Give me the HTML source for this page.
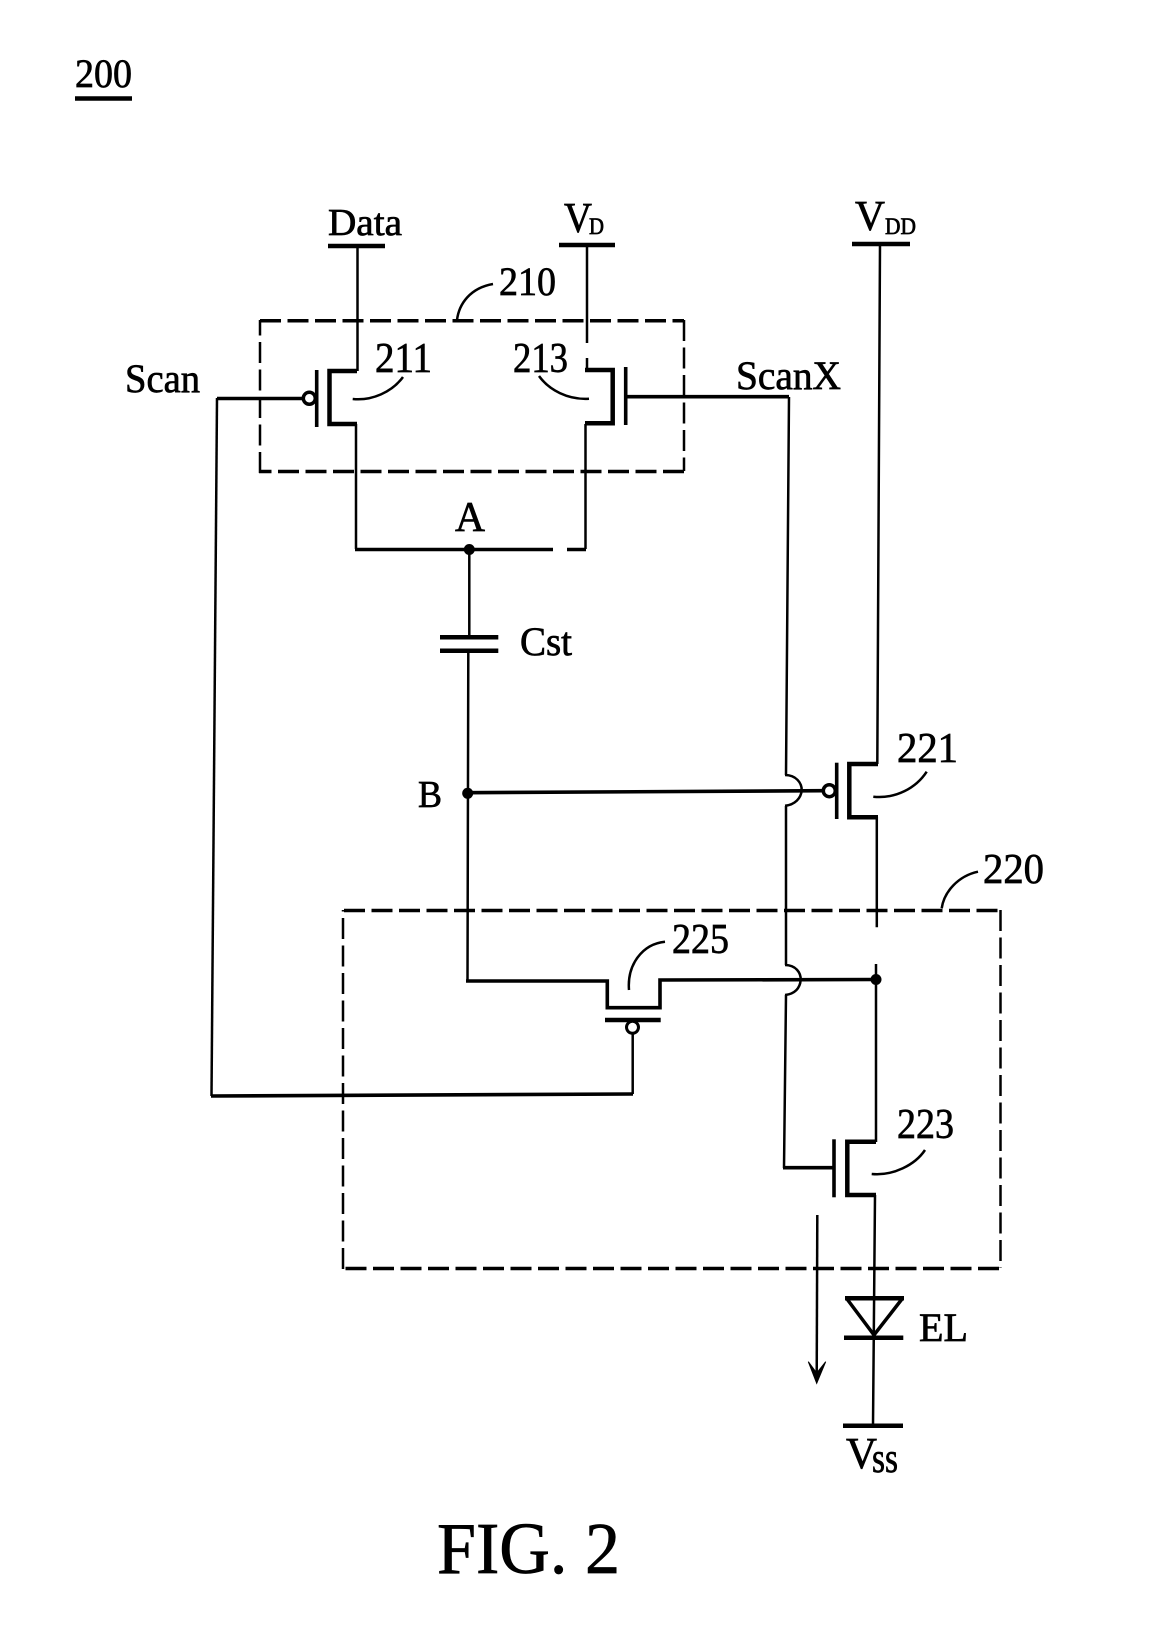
<!DOCTYPE html>
<html><head><meta charset="utf-8"><style>
html,body{margin:0;padding:0;background:#fff}
svg{display:block}
text{font-family:"Liberation Serif",serif;fill:#000;stroke:#000;stroke-width:.7}
.w{fill:none;stroke:#000;stroke-width:2.500}
.t{fill:none;stroke:#000;stroke-width:3.600}
.b{fill:none;stroke:#000;stroke-width:4.500}
.dh{fill:none;stroke:#000;stroke-width:3.500;stroke-dasharray:21 6.500}
.dv{fill:none;stroke:#000;stroke-width:2.500;stroke-dasharray:21 6.500}
</style></head><body>
<svg width="1151" height="1652" viewBox="0 0 1151 1652" xmlns="http://www.w3.org/2000/svg">
<rect width="1151" height="1652" fill="#fff"/>

<!-- labels -->
<text x="75" y="87" font-size="40" textLength="57" lengthAdjust="spacingAndGlyphs">200</text>
<path class="b" d="M75 98.500H132"/>
<text x="328" y="235" font-size="38" textLength="74" lengthAdjust="spacingAndGlyphs">Data</text>
<text x="564" y="232" font-size="42" textLength="28" lengthAdjust="spacingAndGlyphs">V</text>
<text x="589" y="234" font-size="23" textLength="15" lengthAdjust="spacingAndGlyphs">D</text>
<text x="855" y="230" font-size="42" textLength="30" lengthAdjust="spacingAndGlyphs">V</text>
<text x="885" y="234" font-size="23" textLength="31" lengthAdjust="spacingAndGlyphs">DD</text>
<text x="499" y="295" font-size="40" textLength="57" lengthAdjust="spacingAndGlyphs">210</text>
<text x="375" y="372" font-size="42" textLength="57" lengthAdjust="spacingAndGlyphs">211</text>
<text x="513" y="372" font-size="42" textLength="55" lengthAdjust="spacingAndGlyphs">213</text>
<text x="125" y="392" font-size="40" textLength="75" lengthAdjust="spacingAndGlyphs">Scan</text>
<text x="736" y="389" font-size="40" textLength="105" lengthAdjust="spacingAndGlyphs">ScanX</text>
<text x="455" y="531" font-size="42" textLength="30" lengthAdjust="spacingAndGlyphs">A</text>
<text x="520" y="655" font-size="40" textLength="52" lengthAdjust="spacingAndGlyphs">Cst</text>
<text x="418" y="807" font-size="38" textLength="24" lengthAdjust="spacingAndGlyphs">B</text>
<text x="897" y="762" font-size="42" textLength="61" lengthAdjust="spacingAndGlyphs">221</text>
<text x="983" y="883" font-size="42" textLength="61" lengthAdjust="spacingAndGlyphs">220</text>
<text x="672" y="953" font-size="42" textLength="57" lengthAdjust="spacingAndGlyphs">225</text>
<text x="897" y="1138" font-size="42" textLength="57" lengthAdjust="spacingAndGlyphs">223</text>
<text x="919" y="1341" font-size="40" textLength="49" lengthAdjust="spacingAndGlyphs">EL</text>
<text x="846" y="1468" font-size="44" textLength="31" lengthAdjust="spacingAndGlyphs">V</text>
<text x="872" y="1472" font-size="42" textLength="26" lengthAdjust="spacingAndGlyphs">ss</text>
<text x="437" y="1573" font-size="73" textLength="183" lengthAdjust="spacingAndGlyphs">FIG. 2</text>

<!-- dashed boxes -->
<path class="dh" d="M260 320.700H684"/>
<path class="dv" d="M684 320V471"/>
<path class="dh" d="M684 471.500H259"/>
<path class="dv" d="M260 473V320"/>
<path class="dh" d="M344 910.500H1001"/>
<path class="dv" d="M1000.500 910V1268"/>
<path class="dh" d="M999 1268.500H342"/>
<path class="dv" d="M343 1269V910"/>

<!-- rails -->
<path class="b" d="M328 246H385M559 245H615M852 244H910M843 1425.700H903"/>
<path class="w" d="M357.500 246V371M587 245V343M587 358V371M880 244L877.300 764M876.800 817V927.300M876 964V1142M875 1195L873 1425"/>

<!-- T211 -->
<path class="t" d="M316.700 370V427"/>
<path class="b" d="M357 371H329.500V424H357"/>
<circle cx="309.300" cy="398.300" r="6" fill="#fff" stroke="#000" stroke-width="3.500"/>
<path class="t" d="M217 398.500H303"/>
<path class="w" d="M217 398L211.500 1096"/>
<path class="t" d="M211 1096L633 1094"/>
<path class="w" d="M632.700 1094V1033"/>
<path class="w" d="M403 377C392 392 372 401 352.700 399"/>

<!-- T213 -->
<path class="t" d="M625.700 367V425"/>
<path class="b" d="M585 370H612.700V423.300H585"/>
<path class="t" d="M626 396.700H789"/>
<path class="w" d="M539 376C549 390 568 400 589 398.700"/>
<path class="w" d="M789 397L786 775M786 806V965M786 995L784 1168"/>
<path class="t" d="M783 1167.700H833"/>

<!-- lower of 210 -->
<path class="w" d="M356 424V549M585.500 424V549"/>
<path class="t" d="M355 549.500H553M567 549.500H586"/>
<circle cx="469.300" cy="549.500" r="5.500" fill="#000"/>

<!-- capacitor -->
<path class="w" d="M469.300 550V637M468.300 651L467.500 981"/>
<path class="b" d="M440 637.300H498.300M440 650.700H498.300"/>

<!-- node B to T221 -->
<circle cx="467.700" cy="793.300" r="5.500" fill="#000"/>
<path class="t" d="M467 792.700L824 790.700"/>
<path class="w" d="M785 775C796 775 802 783 801.700 790.500C801 798 795 805 785 805.700"/>
<circle cx="829.300" cy="790.700" r="6" fill="#fff" stroke="#000" stroke-width="3.500"/>
<path class="t" d="M836.700 762.700V819"/>
<path class="b" d="M878 764H849.300V817.300H878"/>
<path class="w" d="M926.700 771.700C916 788 896 799 873.300 796.700"/>

<!-- T225 -->
<path class="t" d="M466 981H607.300V1007.700H660V980L876 979.500"/>
<path class="b" d="M605 1020H660.700"/>
<circle cx="632.500" cy="1027.300" r="6" fill="#fff" stroke="#000" stroke-width="3"/>
<path class="w" d="M785 965C796 965 801 973 800.700 980C800 988 795 994 785 995"/>
<circle cx="876" cy="979.500" r="5.500" fill="#000"/>
<path class="w" d="M629 990C627 965 642 944 665 941.700"/>

<!-- leaders for boxes -->
<path class="w" d="M457 320C459 304 470 288 493 284"/>
<path class="w" d="M941.700 908.300C944 892 958 876 978 871.700"/>

<!-- T223 -->
<path class="t" d="M834 1139.300V1197.300"/>
<path class="b" d="M876 1141.700H847.300V1195H876"/>
<path class="w" d="M925 1150C915 1165 893 1176 871.700 1174"/>

<!-- diode -->
<path class="b" d="M845 1298.300H904M844 1337.700H903.300"/>
<path d="M847 1299L874 1335L902 1299" fill="none" stroke="#000" stroke-width="3.500"/>

<!-- arrow -->
<path class="w" d="M817.300 1215L816.700 1378"/>
<path d="M808.300 1361.700L816.700 1383.300L825.700 1361.700L816.700 1373Z" fill="#000" stroke="#000" stroke-width="1"/>
</svg>
</body></html>
